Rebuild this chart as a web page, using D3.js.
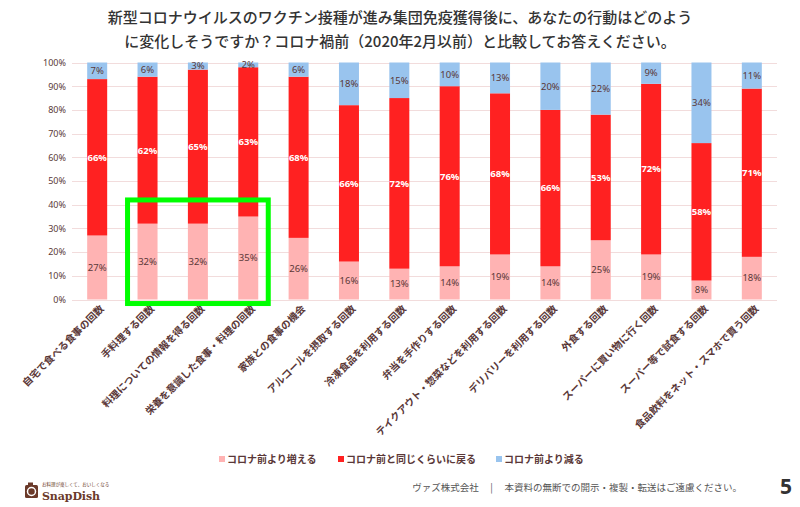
<!DOCTYPE html>
<html><head><meta charset="utf-8">
<script src="https://cdn.jsdelivr.net/npm/d3@7"></script>
<style>body{margin:0;background:#fff;}svg{display:block;font-family:"Noto Sans CJK JP","Noto Sans",sans-serif;}</style>
</head><body>
<svg id="c" width="800" height="507"></svg>
<script>
const categories = ["自宅で食べる食事の回数","手料理する回数","料理についての情報を得る回数","栄養を意識した食事・料理の回数","家族との食事の機会","アルコールを摂取する回数","冷凍食品を利用する回数","弁当を手作りする回数","テイクアウト・惣菜などを利用する回数","デリバリーを利用する回数","外食する回数","スーパーに買い物に行く回数","スーパー等で試食する回数","食品飲料をネット・スマホで買う回数"];
const increase = [27,32,32,35,26,16,13,14,19,14,25,19,8,18];
const same     = [66,62,65,63,68,66,72,76,68,66,53,72,58,71];
const decrease = [7,6,3,2,6,18,15,10,13,20,22,9,34,11];
const seriesNames = ["コロナ前より増える","コロナ前と同じくらいに戻る","コロナ前より減る"];
const yTicks = [0,10,20,30,40,50,60,70,80,90,100];
const titleLines = ["新型コロナウイルスのワクチン接種が進み集団免疫獲得後に、あなたの行動はどのよう","に変化しそうですか？コロナ禍前（2020年2月以前）と比較してお答えください。"];
const highlighted = [1,2,3];

const colors = ["#FFB3B3","#FF2121","#99C4EE"];
const brown = "#5a3838";
const svg = d3.select("#c");

const x = d3.scaleBand().domain(categories).range([72,777]).paddingInner(0.6).paddingOuter(0.3);
const y = d3.scaleLinear().domain([0,100]).range([299.5,62.5]);

// title
svg.append("g").selectAll("text").data(titleLines).join("text")
  .attr("x",400).attr("y",(d,i)=>23+i*24).attr("text-anchor","middle")
  .attr("font-size",15).attr("font-weight",500).attr("fill","#333").text(d=>d);

// grid
svg.append("g").selectAll("line").data(yTicks).join("line")
  .attr("x1",72).attr("x2",777).attr("y1",d=>Math.round(y(d))+0.5).attr("y2",d=>Math.round(y(d))+0.5)
  .attr("stroke","#f2dcdc").attr("stroke-width",1);

// y axis
const yAxis = svg.append("g").attr("transform","translate(66,0)")
  .call(d3.axisLeft(y).tickValues(yTicks).tickFormat(d=>d+"%").tickSize(0).tickPadding(0));
yAxis.select(".domain").remove();
yAxis.selectAll("text").attr("font-size",9).attr("fill",brown).attr("font-family","'Noto Sans',sans-serif");

// stack
const rows = categories.map((c,i)=>({cat:c,inc:increase[i],same:same[i],dec:decrease[i]}));
const stack = d3.stack().keys(["inc","same","dec"])(rows);
const bw = 20;
const gBars = svg.append("g");
stack.forEach((layer,li)=>{
  gBars.append("g").selectAll("rect").data(layer).join("rect")
    .attr("x",d=>x(d.data.cat)+x.bandwidth()/2-bw/2)
    .attr("width",bw)
    .attr("y",d=>y(d[1]))
    .attr("height",d=>y(d[0])-y(d[1]))
    .attr("fill",colors[li]);
});
stack.forEach((layer,li)=>{
  gBars.append("g").selectAll("text").data(layer).join("text")
    .attr("x",d=>x(d.data.cat)+x.bandwidth()/2)
    .attr("y",d=>y((d[0]+d[1])/2))
    .attr("dy","0.35em")
    .attr("text-anchor","middle")
    .attr("font-size",9.5)
    .attr("font-family","'Noto Sans',sans-serif")
    .attr("font-weight",li===1?"bold":"normal")
    .attr("fill",li===1?"#fff":brown)
    .text(d=>(d[1]-d[0])+"%");
});

// x labels
svg.append("g").selectAll("text").data(categories).join("text")
  .attr("transform",d=>`translate(${x(d)+x.bandwidth()/2+5},${307}) rotate(-45)`)
  .attr("text-anchor","end").attr("dy","0.35em")
  .attr("font-size",10).attr("font-weight","bold").attr("fill",brown).text(d=>d);

// highlight box
const hx0 = x(categories[highlighted[0]]) + x.bandwidth()/2 - 20;
const hx1 = x(categories[highlighted[highlighted.length-1]]) + x.bandwidth()/2 + 20;
svg.append("rect").attr("x",hx0).attr("y",y(42)).attr("width",hx1-hx0).attr("height",y(-1.7)-y(42))
  .attr("fill","none").attr("stroke","#00ff00").attr("stroke-width",5);

// legend
const legX = [219,338,496];
const leg = svg.append("g");
seriesNames.forEach((n,i)=>{
  leg.append("rect").attr("x",legX[i]).attr("y",456).attr("width",6).attr("height",6).attr("fill",colors[i]);
  leg.append("text").attr("x",legX[i]+8).attr("y",459).attr("dy","0.36em").attr("font-size",10)
    .attr("font-weight","bold").attr("fill",brown).text(n);
});

// footer
svg.append("text").attr("x",742).attr("y",491).attr("text-anchor","end").attr("font-size",9.5)
  .attr("fill","#555").text("ヴァズ株式会社　 |　 本資料の無断での開示・複製・転送はご遠慮ください。");
svg.append("text").attr("x",786).attr("y",494).attr("text-anchor","middle").attr("font-size",21)
  .attr("font-weight","bold").attr("fill","#333").attr("font-family","'Noto Sans',sans-serif").text("5");

// logo
const logo = svg.append("g");
logo.append("rect").attr("x",25).attr("y",485).attr("width",13).attr("height",13).attr("rx",1.5).attr("fill","#6b3a2a");
logo.append("rect").attr("x",28).attr("y",482.5).attr("width",5).attr("height",3).attr("fill","#6b3a2a");
logo.append("circle").attr("cx",31.5).attr("cy",491.5).attr("r",4).attr("fill","none").attr("stroke","#fff").attr("stroke-width",1.5);
logo.append("text").attr("x",42).attr("y",486).attr("font-size",4.5).attr("fill","#6b3a2a").text("お料理が楽しくて、おいしくなる");
logo.append("text").attr("x",42).attr("y",499.5).attr("font-size",11).attr("font-weight","bold").attr("fill","#6b3a2a")
  .attr("font-family","'DejaVu Serif',serif").attr("textLength",58).text("SnapDish");
</script>
</body></html>
